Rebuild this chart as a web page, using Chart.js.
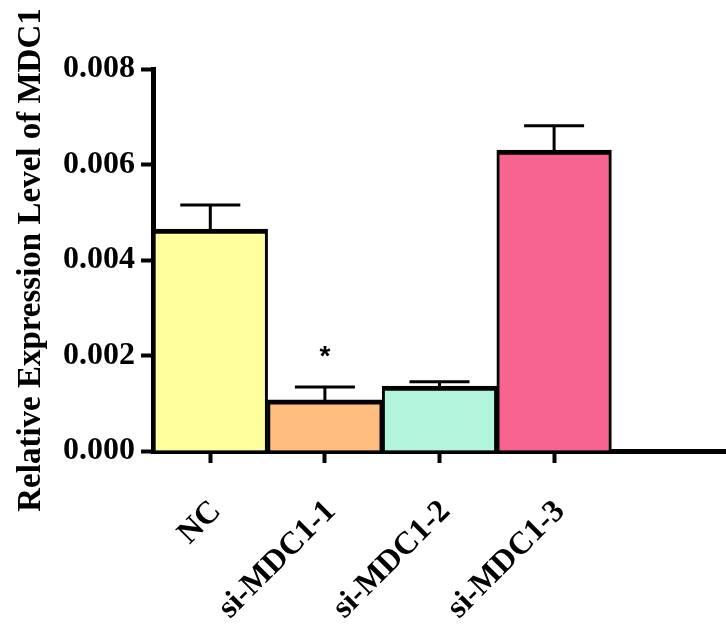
<!DOCTYPE html>
<html>
<head>
<meta charset="utf-8">
<script src="https://cdn.jsdelivr.net/npm/chart.js@4"></script>
<style>
  html, body { margin: 0; padding: 0; background: #fff; }
  #wrap { width: 726px; height: 624px; }
</style>
</head>
<body>
<div id="wrap"><canvas id="chart"></canvas></div>
<script>
// datos
const categorias = ['NC', 'si-MDC1-1', 'si-MDC1-2', 'si-MDC1-3'];
const valores = [0.00465, 0.00107, 0.00136, 0.00630];
const errores = [0.00515, 0.00134, 0.00145, 0.00681];
const asteriscos = ['', '*', '', ''];
const yTicks = [0, 0.002, 0.004, 0.006, 0.008];

const colores = ['#FFFF9E', '#FFBE80', '#B3F5DC', '#F7648F'];
const negro = '#000';
const fuente = "'Liberation Serif', 'Times New Roman', serif";

// barras de error (solo hacia arriba) y asteriscos
const errorBars = {
  id: 'errorBars',
  afterDatasetsDraw(chart) {
    const ctx = chart.ctx;
    const y = chart.scales.y;
    const meta = chart.getDatasetMeta(0);
    ctx.save();
    ctx.strokeStyle = negro;
    ctx.lineWidth = 3;
    meta.data.forEach((bar, i) => {
      const yTop = y.getPixelForValue(errores[i]);
      ctx.beginPath();
      ctx.moveTo(bar.x, bar.y);
      ctx.lineTo(bar.x, yTop);
      ctx.moveTo(bar.x - 30, yTop);
      ctx.lineTo(bar.x + 30, yTop);
      ctx.stroke();
      if (asteriscos[i]) {
        ctx.fillStyle = negro;
        ctx.font = "bold 28px 'Liberation Sans', Arial, sans-serif";
        ctx.textAlign = 'center';
        ctx.textBaseline = 'middle';
        ctx.fillText(asteriscos[i], bar.x, yTop - 30);
      }
    });
    ctx.restore();
  }
};

new Chart(document.getElementById('chart'), {
  type: 'bar',
  data: {
    labels: categorias.concat(['']),
    datasets: [{
      data: valores,
      backgroundColor: colores,
      borderColor: negro,
      borderWidth: { top: 5, left: 3, right: 3, bottom: 0 },
      borderSkipped: 'start',
      categoryPercentage: 1,
      barPercentage: 1
    }]
  },
  options: {
    responsive: true,
    maintainAspectRatio: false,
    animation: false,
    layout: { padding: { top: 69, right: 0, bottom: 0, left: 0 } },
    plugins: {
      legend: { display: false },
      tooltip: { enabled: false }
    },
    scales: {
      x: {
        afterFit: axis => { axis.height = 173; },
        grid: {
          offset: false,
          drawOnChartArea: false,
          drawTicks: true,
          tickLength: 12,
          tickWidth: 4,
          tickColor: c => (c.index < categorias.length ? negro : 'rgba(0,0,0,0)')
        },
        border: { display: true, color: negro, width: 5 },
        ticks: {
          color: negro,
          font: { family: fuente, weight: 'bold', size: 32 },
          minRotation: 45,
          maxRotation: 45,
          padding: 30,
          labelOffset: 6,
          autoSkip: false
        }
      },
      y: {
        min: 0,
        max: 0.008,
        afterFit: axis => { axis.width = 153; },
        afterBuildTicks: axis => { axis.ticks = yTicks.map(v => ({ value: v })); },
        grid: {
          drawOnChartArea: false,
          drawTicks: true,
          tickLength: 12,
          tickWidth: 4,
          tickColor: negro
        },
        border: { display: true, color: negro, width: 5 },
        ticks: {
          color: negro,
          padding: 6,
          font: { family: fuente, weight: 'bold', size: 32 },
          callback: v => Number(v).toFixed(3)
        },
        title: {
          display: true,
          text: 'Relative Expression Level of MDC1',
          color: negro,
          padding: { top: 12, bottom: 0 },
          font: { family: fuente, weight: 'bold', size: 33 }
        }
      }
    }
  },
  plugins: [errorBars]
});
</script>
</body>
</html>
